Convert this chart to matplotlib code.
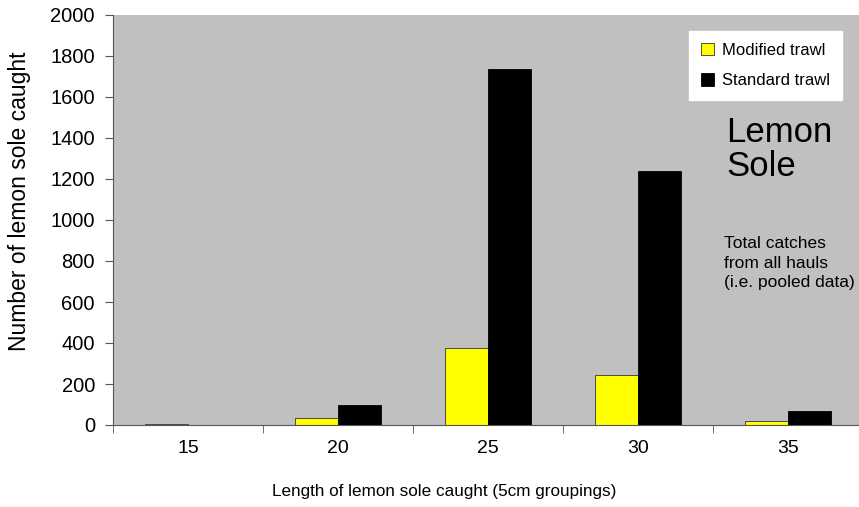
import matplotlib.pyplot as plt
import numpy as np

plt.rcParams['font.family'] = ['Liberation Sans', 'DejaVu Sans']

# data
lengths = ["15", "20", "25", "30", "35"]
modified = [5, 35, 375, 244, 20]
standard = [0, 100, 1735, 1240, 70]

fig = plt.figure(figsize=(8.59, 5.07), dpi=100)
ax = fig.add_axes([113/859, 82/507, 750/859, 410/507])
ax.set_facecolor('#c0c0c0')

x = np.arange(len(lengths))
w = 0.287
ax.bar(x - w/2, modified, w, color='#ffff00', edgecolor='#333333', linewidth=0.6, label='Modified trawl')
ax.bar(x + w/2, standard, w, color='black', edgecolor='black', linewidth=0.6, label='Standard trawl')

ax.set_xlim(-0.5, 4.5)
ax.set_ylim(0, 2000)
ax.set_yticks(range(0, 2001, 200))
ax.set_xticks(x)
ax.set_xticklabels(lengths)
ax.set_xticks(np.arange(-0.5, 4.6, 1), minor=True)
ax.tick_params(axis='x', which='major', length=0, labelsize=14, pad=11)
ax.tick_params(axis='x', which='minor', length=6, direction='out', color='#555555')
ax.tick_params(axis='y', labelsize=14.5, length=6, pad=7, direction='out', color='#555555')

for s in ['top', 'right']:
    ax.spines[s].set_visible(False)
ax.spines['left'].set_color('#555555')
ax.spines['bottom'].set_color('#555555')

ax.set_xlabel("Length of lemon sole caught (5cm groupings)", fontsize=12.3)
ax.xaxis.set_label_coords(0.441, -0.143)
ax.set_ylabel("Number of lemon sole caught", fontsize=16.5)
ax.yaxis.set_label_coords(-0.124, 0.546)
ax.yaxis.label.set_va('center')

leg = ax.legend(loc='upper left', bbox_to_anchor=(576/750, 1 - 16/410), frameon=True,
                fancybox=False, framealpha=1, edgecolor='white', fontsize=12,
                handlelength=0.8, handleheight=0.8, handletextpad=0.5, labelspacing=0.9,
                borderpad=0.7, borderaxespad=0)

fig.text(726/859, 1 - 116/507, "Lemon\nSole", fontsize=25, va='top', ha='left', linespacing=1.05)
fig.text(724/859, 1 - 236/507, "Total catches\nfrom all hauls\n(i.e. pooled data)", fontsize=12.5,
         va='top', ha='left', linespacing=1.38)

fig.savefig("out.png", dpi=100)
